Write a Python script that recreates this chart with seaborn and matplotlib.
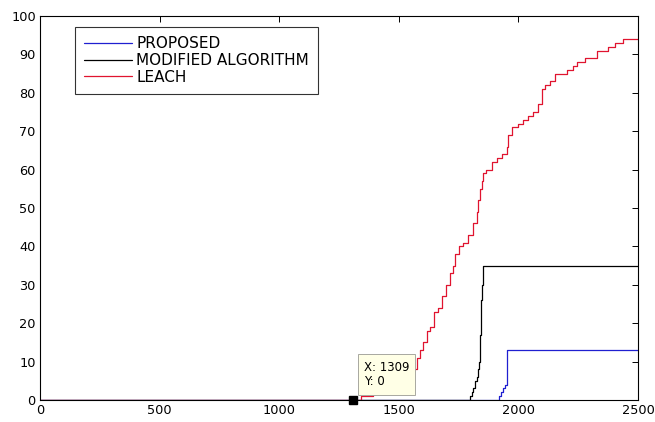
import matplotlib
matplotlib.use("Agg")
import matplotlib.pyplot as plt
from matplotlib.patches import Rectangle
import seaborn as sns

# ---- data ----
leach_x = [0, 1340, 1392, 1440, 1480, 1510, 1530, 1548, 1578, 1589, 1600, 1619, 1630, 1648, 1665,
           1680, 1697, 1714, 1725, 1735, 1753, 1770, 1790, 1811, 1826, 1833, 1839, 1846,
           1853, 1865, 1888, 1909, 1930, 1951, 1958, 1972, 2000, 2020, 2041, 2062, 2083,
           2097, 2111, 2132, 2153, 2202, 2230, 2244, 2278, 2327, 2376, 2404, 2439, 2500]
leach_y = [0, 1, 2, 3, 4, 5, 6, 8, 11, 13, 15, 18, 19, 23, 24,
           27, 30, 33, 35, 38, 40, 41, 43, 46, 49, 52, 55, 57,
           59, 60, 62, 63, 64, 66, 69, 71, 72, 73, 74, 75, 77,
           81, 82, 83, 85, 86, 87, 88, 89, 91, 92, 93, 94, 94]

mod_x = [0, 1798, 1805, 1812, 1818, 1825, 1830, 1835, 1839, 1841, 1843, 1845, 1848, 1853, 2500]
mod_y = [0, 1, 2, 3, 5, 6, 8, 10, 13, 17, 21, 26, 30, 35, 35]

prop_x = [0, 1920, 1928, 1936, 1944, 1951, 2500]
prop_y = [0, 1, 2, 3, 4, 13, 13]

x_ticks = [0, 500, 1000, 1500, 2000, 2500]
y_ticks = list(range(0, 101, 10))

tip_x, tip_y = 1309, 0
tip_labels = ["X: 1309", "Y: 0"]

# ---- plot ----
sns.set_style("white")
plt.rcParams['font.family'] = ['DejaVu Sans']
plt.rcParams['text.color'] = 'black'

fig = plt.figure(figsize=(6.55, 4.22), dpi=100)
ax = fig.add_axes([40/655, 22/422, 598/655, 384/422])

sns.lineplot(x=prop_x, y=prop_y, ax=ax, color="#1f1fd0", lw=0.9, drawstyle="steps-post",
             sort=False, estimator=None, label="PROPOSED")
sns.lineplot(x=mod_x, y=mod_y, ax=ax, color="black", lw=0.9, drawstyle="steps-post",
             sort=False, estimator=None, label="MODIFIED ALGORITHM")
sns.lineplot(x=leach_x, y=leach_y, ax=ax, color="#e0142f", lw=0.9, drawstyle="steps-post",
             sort=False, estimator=None, label="LEACH")

ax.set_xlim(0, 2500)
ax.set_ylim(0, 100)
ax.set_xticks(x_ticks)
ax.set_yticks(y_ticks)
ax.tick_params(direction="in", length=4, width=0.7, top=True, right=True,
               labelsize=9.3, colors="black", pad=3)
for s in ax.spines.values():
    s.set_visible(True)
    s.set_color("black")
    s.set_linewidth(0.8)

leg = ax.legend(loc="upper left", bbox_to_anchor=(0.0585, 0.971), fontsize=11,
                frameon=True, fancybox=False, handlelength=3.14, handletextpad=0.26,
                borderpad=0.6, labelspacing=0.11, borderaxespad=0, labelcolor="black")
leg.get_frame().set_edgecolor("black")
leg.get_frame().set_linewidth(0.8)

# data tip
ax.plot([tip_x], [tip_y], marker="s", color="black", ms=6, clip_on=False, zorder=6)
ax.add_patch(Rectangle((1329, 1.4), 1568 - 1329, 12.0 - 1.4, facecolor="#ffffe6",
                       edgecolor="#a8a8a0", lw=0.7, zorder=5))
ax.text(1354, 7.5, tip_labels[0], fontsize=8.5, va="baseline", ha="left", zorder=7, color="black")
ax.text(1354, 3.9, tip_labels[1], fontsize=8.5, va="baseline", ha="left", zorder=7, color="black")

fig.savefig("out.png", dpi=100, facecolor="white")
